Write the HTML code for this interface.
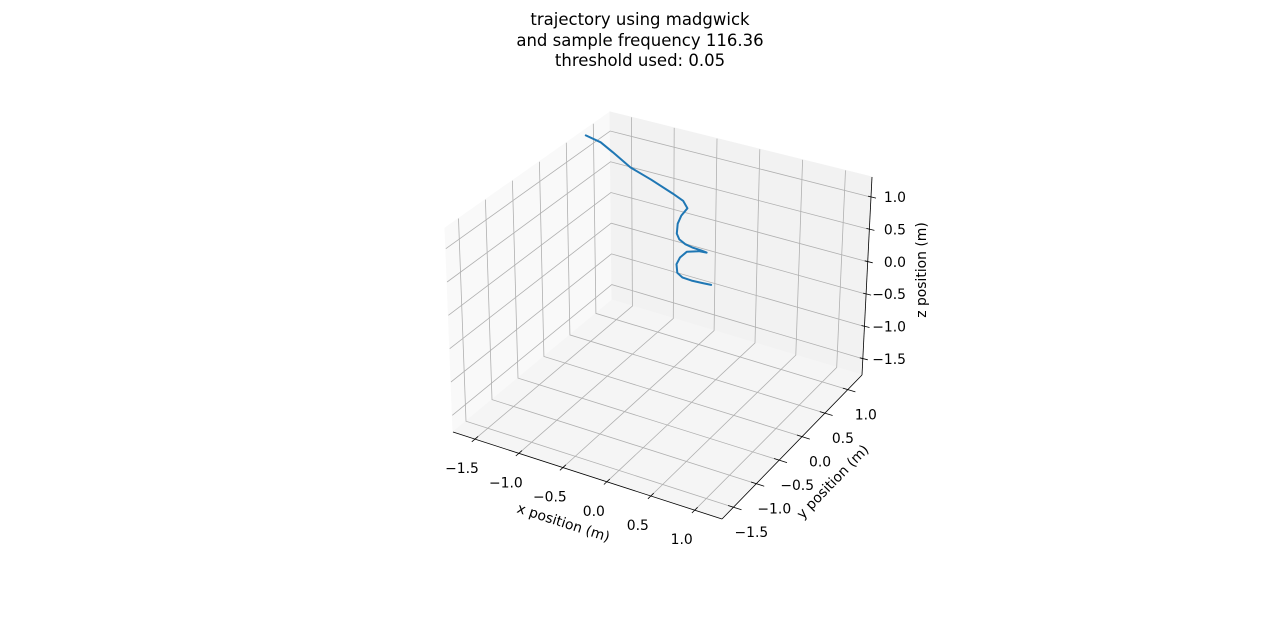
<!DOCTYPE html>
<html><head><meta charset="utf-8"><style>
html,body{margin:0;padding:0;background:#fff;}
svg{display:block;font-family:"DejaVu Sans","Liberation Sans",sans-serif;}
</style></head><body>
<svg id="chart" width="1280" height="617" viewBox="0 0 1280 617" xmlns="http://www.w3.org/2000/svg">
<rect width="1280" height="617" fill="#fff"/>
<g font-size="16.5" text-anchor="middle" fill="#000">
<text x="640" y="25">trajectory using madgwick</text>
<text x="640" y="46">and sample frequency 116.36</text>
<text x="640" y="66">threshold used: 0.05</text>
</g>
<g id="panes"></g>
<g id="grid"></g>
<g id="axes"></g>
<g id="series"></g>
<text font-size="13.9" text-anchor="middle" transform="translate(562,527) rotate(18)">x position (m)</text>
<text font-size="13.9" text-anchor="middle" transform="translate(836,485) rotate(-46)">y position (m)</text>
<text font-size="13.9" text-anchor="middle" transform="translate(926,270) rotate(-90)">z position (m)</text>
</svg>
<script>
const ticks = [-1.5, -1.0, -0.5, 0.0, 0.5, 1.0];
const tickLabels = ["\u22121.5", "\u22121.0", "\u22120.5", "0.0", "0.5", "1.0"];
const xs = [-1.65,-1.48,-1.34,-1.14,-0.90,-0.65,-0.53,-0.48,-0.55,-0.59,-0.60,-0.57,-0.50,-0.42,-0.31,-0.25,-0.34,-0.48,-0.56,-0.60,-0.59,-0.53,-0.42,-0.29,-0.19];
const ys = [0.7,0.7,0.7,0.7,0.7,0.7,0.7,0.7,0.7,0.7,0.7,0.7,0.7,0.7,0.7,0.7,0.7,0.7,0.7,0.7,0.7,0.7,0.7,0.7,0.7];
const zs = [1.34,1.29,1.18,1.01,0.90,0.77,0.70,0.60,0.46,0.32,0.16,0.08,0.03,0.01,0.00,-0.01,-0.02,-0.08,-0.20,-0.32,-0.45,-0.50,-0.51,-0.50,-0.49];
const lo = -1.75, hi = 1.31;

const NS = "http://www.w3.org/2000/svg";
const C = {
 "000":[453,432],"100":[722,519],"110":[862,375],"010":[612,300],
 "001":[445,228],"011":[610,112],"111":[872,177],"101":[732,303]
};
function P(u,v,w){
  const L=(a,b,t)=>[a[0]+(b[0]-a[0])*t,a[1]+(b[1]-a[1])*t];
  const b0=L(L(C["000"],C["100"],u),L(C["010"],C["110"],u),v);
  const b1=L(L(C["001"],C["101"],u),L(C["011"],C["111"],u),v);
  return L(b0,b1,w);
}
const n = val => (val-lo)/(hi-lo);
function proj(x,y,z){return P(n(x),n(y),n(z));}
function poly(g,pts,attrs,name){
  const e=document.createElementNS(NS,pts.length>2&&attrs.fill&&attrs.fill!=="none"?"polygon":"polyline");
  e.setAttribute("points",pts.map(p=>p[0].toFixed(1)+","+p[1].toFixed(1)).join(" "));
  for(const k in attrs) e.setAttribute(k,attrs[k]);
  
  
  g.appendChild(e); return e;
}
function txt(g,x,y,s,anchor,name){
  const t=document.createElementNS(NS,"text");
  t.setAttribute("x",x.toFixed(1));t.setAttribute("y",y.toFixed(1));
  t.setAttribute("font-size","13.9");t.setAttribute("text-anchor",anchor);
  t.textContent=s;
  
  
  g.appendChild(t);
}
const panes=document.getElementById("panes"),grid=document.getElementById("grid"),axes=document.getElementById("axes"),series=document.getElementById("series");
poly(panes,[P(0,0,0),P(0,1,0),P(0,1,1),P(0,0,1)],{fill:"#f9f9f9",stroke:"#f9f9f9"},"left-pane");
poly(panes,[P(0,1,0),P(1,1,0),P(1,1,1),P(0,1,1)],{fill:"#f2f2f2",stroke:"#f2f2f2"},"back-pane");
poly(panes,[P(0,0,0),P(1,0,0),P(1,1,0),P(0,1,0)],{fill:"#f5f5f5",stroke:"#f5f5f5"},"floor-pane");
const gs={fill:"none",stroke:"#b0b0b0","stroke-width":"0.8"};
ticks.forEach(t=>{
  const a=n(t);
  poly(grid,[P(a,0,0),P(a,1,0),P(a,1,1)],gs,"x-gridline");
  poly(grid,[P(1,a,0),P(0,a,0),P(0,a,1)],gs,"y-gridline");
  poly(grid,[P(0,0,a),P(0,1,a),P(1,1,a)],gs,"z-gridline");
});
const as={fill:"none",stroke:"#000","stroke-width":"0.8"};
poly(axes,[P(0,0,0),P(1,0,0)],as,"x-axis-line");
poly(axes,[P(1,0,0),P(1,1,0)],as,"y-axis-line");
poly(axes,[P(1,1,0),P(1,1,1)],as,"z-axis-line");
ticks.forEach((t,i)=>{
  const a=n(t);
  poly(axes,[P(a,0.02,0),P(a,-0.02,0)],as,"x-tick");
  let p=P(a,0,0); txt(axes,p[0]-13,p[1]+34,tickLabels[i],"middle","x-tick-label");
  poly(axes,[P(0.98,a,0),P(1.03,a,0)],as,"y-tick");
  p=P(1,a,0); txt(axes,p[0]+18,p[1]+30,tickLabels[i],"middle","y-tick-label");
  p=P(1,1,a);
  poly(axes,[[p[0]-3,p[1]-1],[p[0]+5,p[1]+1]],as,"z-tick");
  txt(axes,906,p[1]+5,tickLabels[i],"end","z-tick-label");
});
const pts=xs.map((x,i)=>proj(x,ys[i],zs[i]));
poly(series,pts,{fill:"none",stroke:"#1f77b4","stroke-width":"2","stroke-linejoin":"round","stroke-linecap":"round"},"trajectory-line");
</script>
</body></html>
